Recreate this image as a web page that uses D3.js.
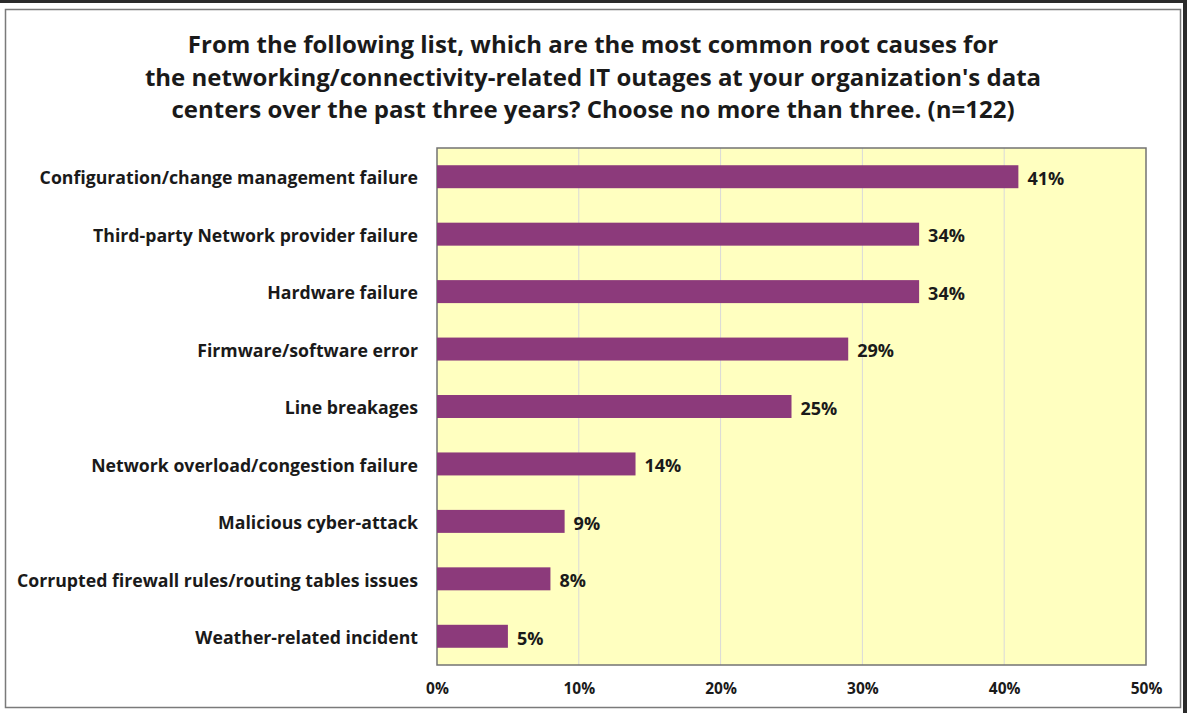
<!DOCTYPE html>
<html>
<head>
<meta charset="utf-8">
<script src="https://cdn.jsdelivr.net/npm/d3@7"></script>
<style>
  body { margin: 0; background: #ffffff; }
  svg { display: block; }
  text { font-family: "Open Sans", Lato, sans-serif; font-weight: bold; fill: #1a1a1a; }
</style>
</head>
<body>
<div id="chart"></div>
<script>
// data
var causes = [
  "Configuration/change management failure",
  "Third-party Network provider failure",
  "Hardware failure",
  "Firmware/software error",
  "Line breakages",
  "Network overload/congestion failure",
  "Malicious cyber-attack",
  "Corrupted firewall rules/routing tables issues",
  "Weather-related incident"
];
var shares = [41, 34, 34, 29, 25, 14, 9, 8, 5];
var xTicks = [0, 10, 20, 30, 40, 50];
var titleLines = [
  "From the following list, which are the most common root causes for",
  "the networking/connectivity-related IT outages at your organization's data",
  "centers over the past three years? Choose no more than three. (n=122)"
];

var width = 1187;
var height = 713;
var plot = { left: 437, top: 148, right: 1146, bottom: 665 };

var svg = d3.select("#chart").append("svg").attr("width", width).attr("height", height);

// dark edges of the screenshot and the chart frame
svg.append("rect").attr("x", 0).attr("y", 0).attr("width", width).attr("height", 3).attr("fill", "#2b2b2b");
svg.append("rect").attr("x", 1183).attr("y", 0).attr("width", 4).attr("height", height).attr("fill", "#2b2b2b");
svg.append("rect").attr("x", 5.5).attr("y", 9.5).attr("width", 1175).attr("height", 698)
  .attr("fill", "#ffffff").attr("stroke", "#7a7a7a").attr("stroke-width", 1.5);

// title
svg.append("g").selectAll("text")
  .data(titleLines)
  .enter()
  .append("text")
  .attr("x", 593)
  .attr("y", (d, i) => 53 + i * 32.5)
  .attr("text-anchor", "middle")
  .style("font-size", "24px")
  .text(d => d);

var x = d3.scaleLinear().domain([0, 50]).range([plot.left, plot.right]);
var y = d3.scaleBand().domain(causes).range([plot.top, plot.bottom]).paddingInner(0.6).paddingOuter(0.3);

svg.append("rect")
  .attr("x", plot.left).attr("y", plot.top)
  .attr("width", plot.right - plot.left).attr("height", plot.bottom - plot.top)
  .attr("fill", "#ffffc0");

// gridlines
svg.append("g").selectAll("line")
  .data(xTicks.slice(1, -1))
  .enter()
  .append("line")
  .attr("x1", d => x(d)).attr("x2", d => x(d))
  .attr("y1", plot.top).attr("y2", plot.bottom)
  .attr("stroke", "#d9d9d9").attr("stroke-width", 1);

svg.append("rect")
  .attr("x", plot.left).attr("y", plot.top)
  .attr("width", plot.right - plot.left).attr("height", plot.bottom - plot.top)
  .attr("fill", "none").attr("stroke", "#737373").attr("stroke-width", 1.5);

// bars
svg.append("g").selectAll("rect")
  .data(shares)
  .enter()
  .append("rect")
  .attr("x", x(0))
  .attr("y", (d, i) => y(causes[i]))
  .attr("width", d => x(d) - x(0))
  .attr("height", y.bandwidth())
  .attr("fill", "#8c3a7b");

// value labels
svg.append("g").selectAll("text")
  .data(shares)
  .enter()
  .append("text")
  .attr("x", d => x(d) + 9)
  .attr("y", (d, i) => y(causes[i]) + y.bandwidth() / 2 + 2)
  .attr("dy", "0.35em")
  .style("font-size", "18px")
  .text(d => d + "%");

// category labels
var yAxis = d3.axisLeft(y).tickSize(0).tickPadding(19);
var gy = svg.append("g").attr("transform", "translate(" + plot.left + ",2)").call(yAxis);
gy.select(".domain").remove();
gy.selectAll("text").style("font-size", "17.7px").attr("fill", "#1a1a1a");

// x axis labels
var xAxis = d3.axisBottom(x).tickValues(xTicks).tickSize(0).tickPadding(18).tickFormat(d => d + "%");
var gx = svg.append("g").attr("transform", "translate(0," + plot.bottom + ")").call(xAxis);
gx.select(".domain").remove();
gx.selectAll("text").style("font-size", "15.5px").attr("fill", "#262626");
</script>
</body>
</html>
